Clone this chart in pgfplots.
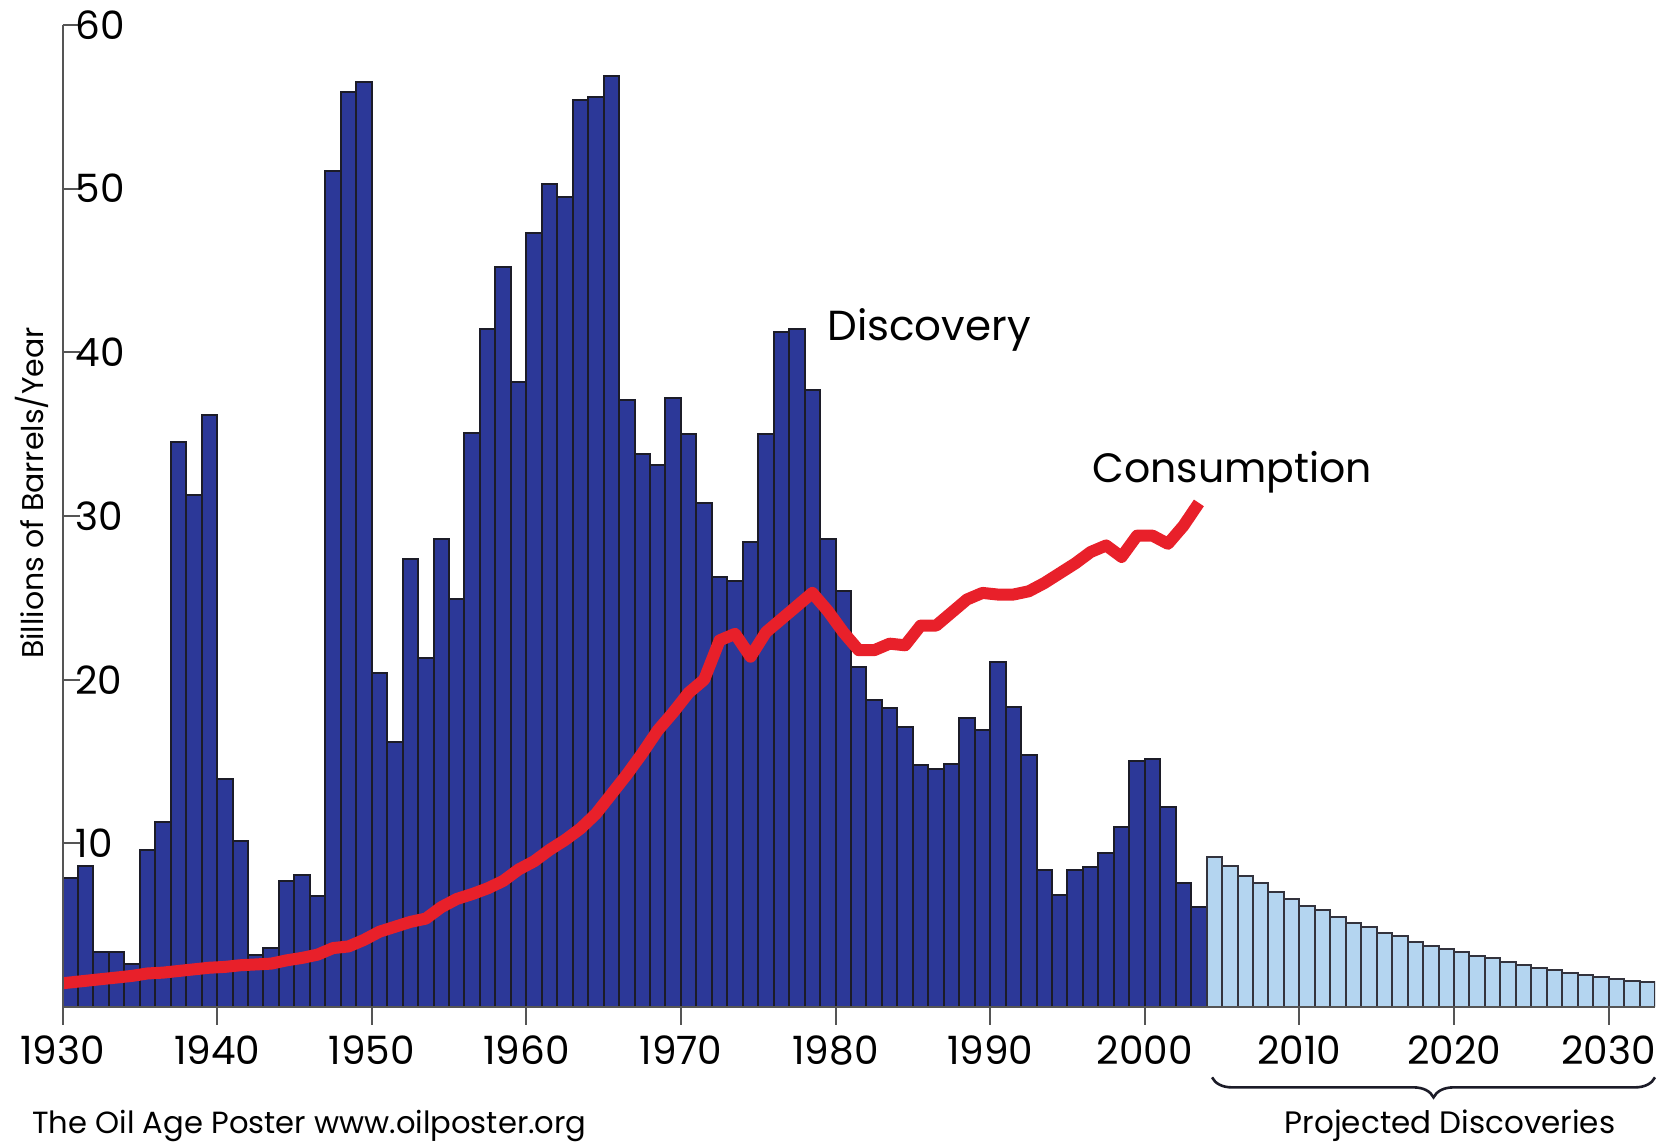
\documentclass[border=0pt]{standalone}
\usepackage{fontspec}
\setmainfont{Poppins}
\usepackage{pgfplots}
\pgfplotsset{compat=1.18}
\usepackage{pgfplotstable}
\usetikzlibrary{decorations.pathreplacing}

\definecolor{discblue}{RGB}{44,56,152}
\definecolor{projblue}{RGB}{180,213,240}
\definecolor{consred}{RGB}{232,32,42}
\definecolor{baredge}{RGB}{28,28,40}
\definecolor{axisgray}{RGB}{85,85,85}

% discovery, billions of barrels per year (bar spans year .. year+1)
\pgfplotstableread{
year v
1930 7.86
1931 8.63
1932 3.38
1933 3.35
1934 2.63
1935 9.59
1936 11.28
1937 34.5
1938 31.3
1939 36.2
1940 13.9
1941 10.16
1942 3.18
1943 3.58
1944 7.72
1945 8.06
1946 6.78
1947 51.1
1948 55.9
1949 56.5
1950 20.4
1951 16.2
1952 27.4
1953 21.3
1954 28.6
1955 24.9
1956 35.1
1957 41.4
1958 45.2
1959 38.2
1960 47.3
1961 50.3
1962 49.5
1963 55.4
1964 55.6
1965 56.9
1966 37.1
1967 33.8
1968 33.1
1969 37.2
1970 35.0
1971 30.8
1972 26.3
1973 26.0
1974 28.4
1975 35.0
1976 41.25
1977 41.45
1978 37.7
1979 28.6
1980 25.4
1981 20.8
1982 18.77
1983 18.26
1984 17.1
1985 14.8
1986 14.56
1987 14.86
1988 17.67
1989 16.93
1990 21.07
1991 18.35
1992 15.4
1993 8.4
1994 6.86
1995 8.4
1996 8.58
1997 9.38
1998 11.0
1999 15.0
2000 15.15
2001 12.2
2002 7.6
2003 6.1
}\discovery

% projected discoveries
\pgfplotstableread{
year v
2004 9.18
2005 8.63
2006 8.0
2007 7.6
2008 7.03
2009 6.6
2010 6.19
2011 5.93
2012 5.52
2013 5.11
2014 4.91
2015 4.54
2016 4.34
2017 3.95
2018 3.75
2019 3.54
2020 3.36
2021 3.14
2022 2.97
2023 2.77
2024 2.57
2025 2.4
2026 2.26
2027 2.06
2028 1.95
2029 1.83
2030 1.71
2031 1.59
2032 1.51
}\projected

% consumption, plotted at mid-year
\pgfplotstableread{
year v
1929.5 1.45
1930 1.5
1931 1.6
1932 1.7
1933 1.8
1934 1.9
1935 2.05
1936 2.1
1937 2.2
1938 2.3
1939 2.4
1940 2.45
1941 2.55
1942 2.6
1943 2.65
1944 2.85
1945 3.0
1946 3.2
1947 3.6
1948 3.7
1949 4.1
1950 4.6
1951 4.9
1952 5.2
1953 5.4
1954 6.1
1955 6.6
1956 6.9
1957 7.25
1958 7.7
1959 8.4
1960 8.9
1961 9.6
1962 10.2
1963 10.9
1964 11.8
1965 13.0
1966 14.2
1967 15.5
1968 16.9
1969 18.0
1970 19.2
1971 20.0
1972 22.4
1973 22.8
1974 21.4
1975 22.9
1976 23.7
1977 24.5
1978 25.3
1979 24.2
1980 22.9
1981 21.8
1982 21.8
1983 22.2
1984 22.1
1985 23.3
1986 23.3
1987 24.1
1988 24.9
1989 25.3
1990 25.2
1991 25.2
1992 25.4
1993 25.9
1994 26.5
1995 27.1
1996 27.8
1997 28.2
1998 27.5
1999 28.8
2000 28.8
2001 28.3
2002 29.4
2003 30.8
}\consumption

\begin{document}
\begin{tikzpicture}
\useasboundingbox (-31.25pt,-69pt) rectangle (804.25pt,503.5pt);
\begin{axis}[
  at={(0,0)}, anchor=south west,
  scale only axis, width=796.25pt, height=491pt,
  xmin=1930, xmax=2033, ymin=0, ymax=60,
  axis lines*=left,
  axis line style={axisgray, line width=1pt},
  xtick={1930,1940,...,2030}, ytick={10,20,...,60},
  xtick align=outside, ytick align=inside,
  major tick length=9pt,
  tick style={axisgray, line width=1pt},
  /pgf/number format/1000 sep={},
  /pgf/number format/assume math mode=true,
  ticklabel style={font=\fontsize{19.5}{22}\selectfont},
  yticklabel style={anchor=west, xshift=3pt},
  xticklabel style={yshift=-2pt},
  axis on top, clip mode=individual,
]
\addplot[ybar, bar width=1, bar shift=0pt, fill=discblue, draw=baredge, line width=1pt]
  table[x expr=\thisrow{year}+0.5, y=v] {\discovery};
\addplot[ybar, bar width=1, bar shift=0pt, fill=projblue, draw=baredge!90, line width=1pt]
  table[x expr=\thisrow{year}+0.5, y=v] {\projected};
\addplot[consred, line width=6pt, line join=round, mark=none]
  table[x expr=\thisrow{year}+0.5, y=v] {\consumption};

\node[anchor=base west, inner sep=0pt, font=\fontsize{21}{24}\selectfont]
  at (axis cs:1979.45,40.7) {Discovery};
\node[anchor=base west, inner sep=0pt, font=\fontsize{20.5}{24}\selectfont]
  at (axis cs:1996.6,32.07) {Consumption};
\node[rotate=90, anchor=base, inner sep=0pt, font=\fontsize{15}{18}\selectfont]
  at (axis cs:1928.74,31.4) {Billions of Barrels/Year};
\draw[line width=1.3pt, baredge, decorate, decoration={brace, mirror, amplitude=10pt}]
  (axis cs:2004.35,-4.3) -- (axis cs:2033,-4.3);
\node[anchor=base, inner sep=0pt, font=\fontsize{15.5}{18}\selectfont]
  at (axis cs:2019.75,-7.7) {Projected Discoveries};
\node[anchor=base west, inner sep=0pt, font=\fontsize{15.3}{18}\selectfont]
  at (axis cs:1928.03,-7.7) {The Oil Age Poster www.oilposter.org};
\end{axis}
\end{tikzpicture}
\end{document}
